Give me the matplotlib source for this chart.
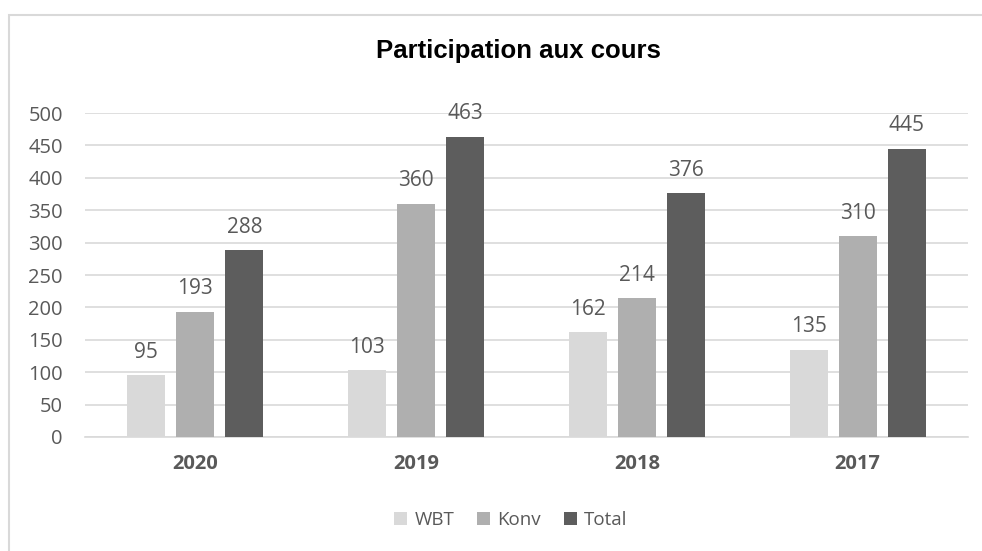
import numpy as np
import matplotlib.pyplot as plt
from matplotlib.patches import Rectangle

# données du graphique
annees = ['2020', '2019', '2018', '2017']
wbt = [95, 103, 162, 135]
konv = [193, 360, 214, 310]
total = [288, 463, 376, 445]
series = ['WBT', 'Konv', 'Total']
couleurs = ['#d9d9d9', '#afafaf', '#5d5d5d']
texte = '#595959'

plt.rcParams['font.family'] = ['Open Sans', 'DejaVu Sans']

fig = plt.figure(figsize=(9.82, 5.51), dpi=100)
# cadre gris clair autour du graphique
fig.patches.append(Rectangle((9 / 982, -0.1), 1.2, 1.1 - 15 / 551, transform=fig.transFigure,
                             fill=False, edgecolor='#d9d9d9', linewidth=1.5))

ax = fig.add_axes([85 / 982, 1 - 437 / 551, 883 / 982, 324 / 551])

x = np.arange(len(annees))
largeur = 0.172
pas = 0.222
for i, (vals, nom) in enumerate(zip([wbt, konv, total], series)):
    barres = ax.bar(x + (i - 1) * pas, vals, largeur, color=couleurs[i], label=nom, zorder=3)
    ax.bar_label(barres, padding=9, fontsize=15, color=texte)

ax.set_xlim(-0.5, len(annees) - 0.5)
ax.set_ylim(0, 500)
ax.set_yticks(range(0, 501, 50))
ax.set_xticks(x)
ax.set_xticklabels(annees, fontweight='bold', fontsize=14.5, color=texte)
ax.tick_params(axis='y', labelsize=14.5, labelcolor=texte, length=0, pad=16)
ax.tick_params(axis='x', length=0, pad=12)
ax.grid(axis='y', color='#d9d9d9', linewidth=1.2, zorder=0)
for s in ['top', 'right', 'left']:
    ax.spines[s].set_visible(False)
ax.spines['bottom'].set_color('#d9d9d9')
ax.spines['bottom'].set_linewidth(1.2)

fig.text(0.528, 1 - 51 / 551, 'Participation aux cours', ha='center', va='center',
         fontsize=18.5, fontweight='bold', family=['Liberation Sans', 'DejaVu Sans'])

fig.legend(loc='center', bbox_to_anchor=(0.52, 1 - 520 / 551), ncol=3, frameon=False,
           fontsize=13.5, labelcolor=texte, handlelength=0.7, handleheight=0.7,
           handletextpad=0.4, columnspacing=1.2)

fig.savefig('out.png', dpi=100)
